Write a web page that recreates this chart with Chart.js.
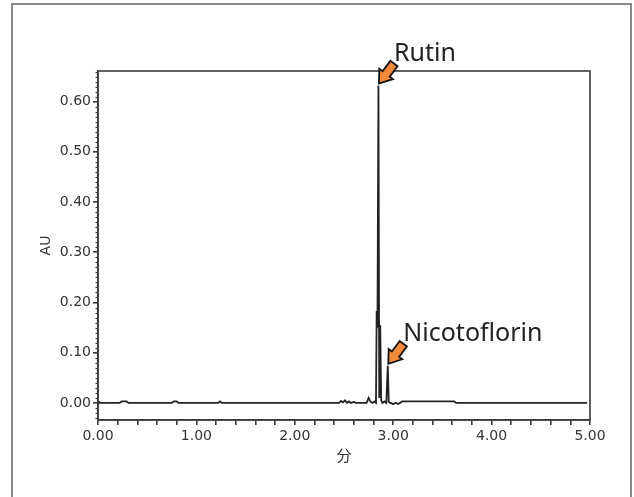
<!DOCTYPE html>
<html>
<head>
<meta charset="utf-8">
<script src="https://cdn.jsdelivr.net/npm/chart.js@4"></script>
<style>
  body { margin: 0; background: #fff; }
</style>
</head>
<body>
<canvas id="chromchart" width="634" height="497"></canvas>
<script>
// retention time (min) and absorbance (AU)
const minutes = [0.00, 0.01, 0.02, 0.22, 0.24, 0.29, 0.31, 0.75, 0.77, 0.80, 0.82, 1.22, 1.24, 1.26,
    2.45, 2.47, 2.49, 2.51, 2.53, 2.55, 2.57, 2.60, 2.62, 2.73, 2.75, 2.77, 2.79, 2.81,
    2.825, 2.832, 2.840, 2.850, 2.858, 2.868, 2.878, 2.890, 2.91, 2.93, 2.945, 2.955, 2.97,
    3.00, 3.03, 3.05, 3.07, 3.09, 3.62, 3.64, 4.97]
const au = [0.000, 0.002, 0.000, 0.000, 0.003, 0.003, 0.000, 0.000, 0.003, 0.003, 0.000, 0.000, 0.003, 0.000,
    0.000, 0.004, 0.001, 0.005, 0.000, 0.003, 0.000, 0.002, 0.000, 0.000, 0.010, 0.002, 0.000, 0.003,
    0.000, 0.183, 0.150, 0.632, 0.010, 0.155, 0.005, 0.000, 0.003, 0.000, 0.074, 0.002, 0.000,
    -0.002, 0.000, -0.002, 0.000, 0.003, 0.003, 0.000, 0.000]

const xTicks = [0, 0.2, 0.4, 0.6, 0.8, 1, 1.2, 1.4, 1.6, 1.8, 2, 2.2, 2.4, 2.6, 2.8, 3, 3.2, 3.4, 3.6, 3.8, 4, 4.2, 4.4, 4.6, 4.8, 5]
const yTicks = [0, 0.1, 0.2, 0.3, 0.4, 0.5, 0.6]

const peakNames = ['Rutin', 'Nicotoflorin']
const peakTimes = [2.85, 2.945]
const peakHeights = [0.632, 0.074]

let points = minutes.map(function(t, i){
    return {x: t, y: au[i]}
})

// frame, plot box, minor y ticks, arrows and peak names
const extras = {
    id: 'extras',
    beforeDraw(chart){
        const ctx = chart.ctx
        ctx.save()
        ctx.fillStyle = '#fff'
        ctx.fillRect(0, 0, chart.width, chart.height)
        ctx.strokeStyle = '#8a8a8a'
        ctx.lineWidth = 2
        ctx.strokeRect(12, 4, 619, 520)
        ctx.restore()
    },
    afterDraw(chart){
        const ctx = chart.ctx
        const a = chart.chartArea
        const xs = chart.scales.x
        const ys = chart.scales.y
        ctx.save()
        ctx.strokeStyle = '#3a3a3a'
        ctx.lineWidth = 1.6
        ctx.strokeRect(a.left, a.top, a.right - a.left, a.bottom - a.top)

        // little ticks every 0.01 AU
        ctx.lineWidth = 1.2
        for(let k = -3; k <= 66; k++){
            if(k % 10 === 0) continue
            let py = Math.round(ys.getPixelForValue(k / 100)) + 0.5
            ctx.beginPath()
            ctx.moveTo(a.left - 2.5, py)
            ctx.lineTo(a.left, py)
            ctx.stroke()
        }

        for(let i = 0; i < peakNames.length; i++){
            let px = xs.getPixelForValue(peakTimes[i]) + 0.5
            let py = ys.getPixelForValue(peakHeights[i]) - 2
            let ang = Math.atan2(-20, 15)
            ctx.save()
            ctx.translate(px, py)
            ctx.rotate(ang)
            ctx.beginPath()
            ctx.moveTo(0, 0)
            ctx.lineTo(12, -8.5)
            ctx.lineTo(12, -4.5)
            ctx.lineTo(25, -4.5)
            ctx.lineTo(25, 4.5)
            ctx.lineTo(12, 4.5)
            ctx.lineTo(12, 8.5)
            ctx.closePath()
            ctx.fillStyle = '#f28a3a'
            ctx.fill()
            ctx.strokeStyle = '#111'
            ctx.lineWidth = 1.8
            ctx.lineJoin = 'miter'
            ctx.stroke()
            ctx.restore()

            ctx.fillStyle = '#222'
            ctx.font = '25px "Noto Sans"'
            ctx.textBaseline = 'alphabetic'
            ctx.textAlign = 'left'
            ctx.fillText(peakNames[i], px + 15, py - 23)
        }
        ctx.restore()
    }
}

const canvasforchrom = document.getElementById('chromchart')
new Chart(canvasforchrom, {
    type: 'line',
    data: {
        datasets: [{
            data: points,
            borderColor: '#222',
            borderWidth: 1.8,
            pointRadius: 0,
            tension: 0,
            fill: false
        }]
    },
    options: {
        responsive: false,
        animation: false,
        devicePixelRatio: 1,
        layout: {
            padding: {left: 0, top: 71, right: 44, bottom: 0}
        },
        plugins: {
            legend: {display: false},
            tooltip: {enabled: false}
        },
        scales: {
            x: {
                type: 'linear',
                min: 0,
                max: 5,
                afterBuildTicks: function(scale){
                    scale.ticks = xTicks.map(function(v){ return {value: v} })
                },
                afterFit: function(scale){
                    scale.height = 77
                },
                ticks: {
                    autoSkip: false,
                    maxRotation: 0,
                    padding: 3,
                    color: '#333',
                    font: {family: '"DejaVu Sans"', size: 14},
                    callback: function(v){
                        return Math.abs(v - Math.round(v)) < 1e-6 ? v.toFixed(2) : ''
                    }
                },
                grid: {
                    drawOnChartArea: false,
                    tickLength: 5,
                    color: '#3a3a3a',
                    lineWidth: 1.6
                },
                border: {color: '#3a3a3a', width: 1.6},
                title: {
                    display: true,
                    text: '分',
                    color: '#333',
                    font: {family: '"Noto Sans CJK JP"', size: 15},
                    padding: {top: 0, bottom: 33}
                }
            },
            y: {
                min: -0.034,
                max: 0.661,
                afterBuildTicks: function(scale){
                    scale.ticks = yTicks.map(function(v){ return {value: v} })
                },
                afterFit: function(scale){
                    scale.width = 98
                },
                ticks: {
                    padding: 2,
                    color: '#333',
                    font: {family: '"DejaVu Sans"', size: 14},
                    callback: function(v){
                        return v.toFixed(2)
                    }
                },
                grid: {
                    drawOnChartArea: false,
                    tickLength: 5,
                    color: '#3a3a3a',
                    lineWidth: 1.6
                },
                border: {color: '#3a3a3a', width: 1.6},
                title: {
                    display: true,
                    text: 'AU',
                    color: '#333',
                    font: {family: '"DejaVu Sans"', size: 14},
                    padding: {top: 38, bottom: 0}
                }
            }
        }
    },
    plugins: [extras]
})
</script>
</body>
</html>
